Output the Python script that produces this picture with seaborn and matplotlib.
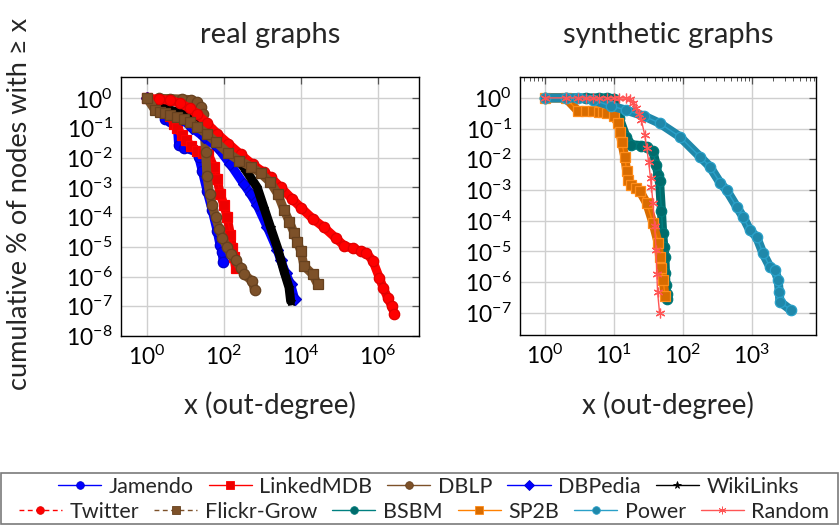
import numpy as np
import pandas as pd
import matplotlib
matplotlib.use("Agg")
import matplotlib.pyplot as plt
import matplotlib.ticker as mticker
from matplotlib.lines import Line2D
from matplotlib.patches import Rectangle
import seaborn as sns

# ---------------- data ----------------
jamendo_x = [1, 2, 3, 4, 5, 6, 6.6, 9, 13, 16, 22, 27, 36, 49, 66, 78, 89, 95]
jamendo_y = [1, 0.5, 0.2, 0.17, 0.16, 0.15, 0.026, 0.022, 0.021, 0.02, 0.0105,
             3.7e-3, 7.8e-4, 1.7e-4, 3.5e-5, 1.2e-5, 6.5e-6, 3e-6]

linkedmdb_x = [1, 2, 3, 4, 5, 6, 8, 10, 14, 20, 28, 39, 54, 65, 80, 100, 120, 147, 165, 180, 200]
linkedmdb_y = [1, 0.8, 0.5, 0.25, 0.14, 0.1, 0.06, 0.04, 0.025, 0.017, 0.015, 0.013,
               5e-3, 2e-3, 6e-4, 2.5e-4, 1e-4, 2.5e-5, 9e-6, 4.5e-6, 2e-6]

dblp_x = [2, 4, 8, 14, 20, 25, 28, 30, 33, 36, 42, 50, 60, 75, 90, 120, 150, 200, 270, 330, 540, 620]
dblp_y = [1, 0.98, 0.95, 0.9, 0.75, 0.5, 0.3, 0.1, 0.016, 2.5e-3, 6e-4, 2.5e-4, 1e-4,
          4e-5, 2e-5, 1e-5, 5.6e-6, 3.5e-6, 2e-6, 1.2e-6, 7e-7, 3.5e-7]

dbpedia_x = [1, 2, 4, 8, 15, 30, 66, 147, 326, 490, 730, 1340, 2400, 3000, 4000, 5400, 6900]
dbpedia_y = [1, 0.55, 0.35, 0.2, 0.1, 0.05, 0.023, 6e-3, 1.3e-3, 6e-4, 2.5e-4, 4.5e-5,
             8e-6, 3.5e-6, 1.3e-6, 5.5e-7, 1.7e-7]

wikilinks_x = [1, 1.8, 4, 10, 20, 54, 147, 326, 730, 1090, 1620, 2440, 3600, 4900, 5400]
wikilinks_y = [1, 0.6, 0.4, 0.3, 0.23, 0.083, 0.017, 4.8e-3, 1e-3, 2.1e-4, 4.5e-5,
               9.5e-6, 1.55e-6, 4.3e-7, 1.5e-7]

twitter_x = [1, 2, 4, 7, 13, 20, 35, 66, 130, 270, 550, 1100, 1620, 3000, 6000, 1e4,
             2e4, 4e4, 8e4, 1.35e5, 2.2e5, 3.6e5, 5e5, 7.4e5, 1.1e6, 1.4e6, 1.8e6, 2.3e6, 2.7e6]
twitter_y = [1, 0.95, 0.85, 0.7, 0.46, 0.3, 0.15, 0.065, 0.03, 0.013, 6e-3, 3.2e-3, 2.2e-3,
             1e-3, 4e-4, 2.1e-4, 9e-5, 4.5e-5, 2e-5, 1.07e-5, 9e-6, 7.2e-6, 6.3e-6, 3.4e-6,
             9e-7, 4e-7, 1.95e-7, 1e-7, 5.4e-8]

flickr_x = [1, 1.6, 2.2, 3, 4, 6, 9, 13, 20, 35, 60, 130, 250, 500, 900, 1600, 2500, 3600,
            5000, 6600, 8000, 1e4, 1.2e4, 2e4, 2.7e4]
flickr_y = [1, 0.4, 0.36, 0.32, 0.28, 0.24, 0.2, 0.16, 0.11, 0.065, 0.035, 0.014, 8e-3, 5e-3,
            3e-3, 1.5e-3, 6e-4, 1.8e-4, 7e-5, 3e-5, 1.5e-5, 7e-6, 2.3e-6, 1.2e-6, 5.5e-7]

bsbm_x = [1, 2, 4, 6, 8, 10, 12, 15, 18, 25, 30, 37, 41, 44, 46, 49, 51, 53, 55, 56, 57, 58, 59]
bsbm_y = [1, 1, 1, 1, 1, 0.95, 0.22, 0.055, 0.03, 0.028, 0.026, 0.018, 6.6e-3, 3e-3, 1.9e-3,
          2e-4, 4e-5, 1.4e-5, 6.6e-6, 2e-6, 8e-7, 4e-7, 2.8e-7]

sp2b_x = [1, 2, 3, 4, 5, 6, 7, 8, 10, 11.5, 12.2, 13, 14.4, 15.3, 16.1, 18, 21, 24, 30, 37,
          44, 46, 49, 52, 55]
sp2b_y = [1, 1, 0.38, 0.37, 0.37, 0.36, 0.35, 0.33, 0.25, 0.15, 0.08, 0.036, 0.012, 4.2e-3,
          2.2e-3, 1.5e-3, 1.15e-3, 9e-4, 3.7e-4, 8.3e-5, 1.85e-5, 6.6e-6, 2.8e-6, 1.2e-6, 3.6e-7]

power_x = [1, 2, 3, 5, 9, 15, 27, 46, 90, 178, 246, 350, 430, 600, 745, 930, 1170, 1450, 1820,
           2150, 2400, 2500, 2550, 3740]
power_y = [1, 1, 0.98, 0.85, 0.55, 0.4, 0.26, 0.15, 0.055, 0.012, 5.8e-3, 1.66e-3, 1e-3,
           2.9e-4, 1.35e-4, 5e-5, 3e-5, 8.7e-6, 3.2e-6, 2.5e-6, 1.2e-6, 4.9e-7, 2.3e-7, 1.2e-7]

random_x = [1, 2, 3, 4, 5, 6, 8, 10, 12, 15, 17, 19, 21, 23, 25, 28, 30, 32, 34, 35, 37, 39,
            41, 42, 43, 46]
random_y = [1, 1, 1, 1, 1, 1, 1, 1, 1, 0.98, 0.9, 0.7, 0.46, 0.3, 0.19, 0.063, 0.023, 8e-3,
            2.4e-3, 1.3e-3, 3.7e-4, 6.5e-5, 1.1e-5, 1.9e-6, 4.9e-7, 1e-7]

left_xticks = [1, 1e2, 1e4, 1e6]
left_yticks = [10.0 ** -k for k in range(0, 9)]
right_xticks = [1, 1e1, 1e2, 1e3]
right_yticks = [10.0 ** -k for k in range(0, 8)]

# ---------------- style ----------------
sns.set_theme(style="white")
plt.rcParams['font.family'] = ['Lato', 'DejaVu Sans']
plt.rcParams['mathtext.fontset'] = 'custom'
plt.rcParams['mathtext.rm'] = 'Lato'
plt.rcParams['mathtext.it'] = 'Lato:italic'
plt.rcParams['mathtext.bf'] = 'Lato:bold'

BROWN = '#7d5129'
BROWN_E = '#66411f'
series_left = [
    # name, x, y, line color, marker, face, edge, ms, dashed, band
    ("Jamendo", jamendo_x, jamendo_y, '#0000ff', 'o', '#0000ff', '#0000cc', 7.5, False, True),
    ("LinkedMDB", linkedmdb_x, linkedmdb_y, '#ff0000', 's', '#ee0000', '#ff0000', 6.5, False, True),
    ("DBLP", dblp_x, dblp_y, BROWN, 'o', BROWN, BROWN_E, 7.5, False, True),
    ("DBPedia", dbpedia_x, dbpedia_y, '#0000ff', 'D', '#0000ff', '#0000cc', 6.0, False, True),
    ("WikiLinks", wikilinks_x, wikilinks_y, '#000000', '*', '#000000', '#000000', 6.5, False, True),
    ("Twitter", twitter_x, twitter_y, '#ff0000', 'o', '#ff0000', '#e00000', 7.5, True, True),
    ("Flickr-Grow", flickr_x, flickr_y, BROWN, 's', BROWN, BROWN_E, 7.0, True, True),
]
series_right = [
    ("BSBM", bsbm_x, bsbm_y, '#008080', 'o', '#006c6c', '#007a7a', 7.5, False, True),
    ("SP2B", sp2b_x, sp2b_y, '#ff8000', 's', '#d96c00', '#ff8c1a', 7.5, False, True),
    ("Power", power_x, power_y, '#2aa0c8', 'o', '#1f88aa', '#2aa0c8', 7.5, False, True),
    ("Random", random_x, random_y, '#ff5555', (6, 2, 0), '#ff5555', '#ff5555', 7.0, False, False),
]

fig = plt.figure(figsize=(8.4, 5.25), dpi=100)
ax1 = fig.add_axes([121 / 840, 1 - 336 / 525, 298 / 840, 259 / 525])
ax2 = fig.add_axes([520 / 840, 1 - 335 / 525, 296 / 840, 258 / 525])

for ax in (ax1, ax2):
    ax.set_xscale('log')
    ax.set_yscale('log')


def draw(ax, series):
    for i, (name, x, y, lc, mk, fc, ec, ms, dashed, band) in enumerate(series):
        df = pd.DataFrame({"x": x, "y": y})
        if band:
            # dense-marker band
            sns.lineplot(data=df, x="x", y="y", ax=ax, color=fc, lw=6.5,
                         estimator=None, sort=False, legend=False,
                         solid_capstyle='round', solid_joinstyle='round', zorder=3 + 2 * i)
        sns.lineplot(data=df, x="x", y="y", ax=ax, color=lc, lw=1.0,
                     estimator=None, sort=False, legend=False,
                     marker=mk, markersize=ms, markerfacecolor=fc, markeredgecolor=ec,
                     markeredgewidth=0.9, zorder=4 + 2 * i)


draw(ax1, series_left)
draw(ax2, series_right)

ax1.set_xlim(10 ** -0.68, 10 ** 7.07)
ax1.set_ylim(1e-8, 10 ** 0.72)
ax2.set_xlim(10 ** -0.36, 10 ** 3.93)
ax2.set_ylim(10 ** -7.72, 10 ** 0.68)

ax1.xaxis.set_major_locator(mticker.FixedLocator(left_xticks))
ax1.yaxis.set_major_locator(mticker.FixedLocator(left_yticks))
ax1.xaxis.set_minor_locator(mticker.NullLocator())
ax1.yaxis.set_minor_locator(mticker.NullLocator())
ax2.xaxis.set_major_locator(mticker.FixedLocator(right_xticks))
ax2.yaxis.set_major_locator(mticker.FixedLocator(right_yticks))
ax2.xaxis.set_minor_locator(mticker.LogLocator(base=10, subs=np.arange(2, 10), numticks=20))
ax2.xaxis.set_minor_formatter(mticker.NullFormatter())
ax2.yaxis.set_minor_locator(mticker.NullLocator())

for ax in (ax1, ax2):
    ax.xaxis.set_major_formatter(mticker.LogFormatterSciNotation())
    ax.yaxis.set_major_formatter(mticker.LogFormatterSciNotation())
    ax.grid(True, which='major', color='#cfcfcf', lw=1.0, zorder=0)
    ax.set_axisbelow(True)
    ax.tick_params(which='major', direction='in', length=5, width=0.9, color='#555555',
                   top=True, right=True, labelsize=16.5, pad=6, labelcolor='black')
    ax.tick_params(which='minor', direction='in', length=3, width=0.7, color='#555555',
                   top=True, right=True)
    for sp in ax.spines.values():
        sp.set_color('black')
        sp.set_linewidth(1.0)
    ax.set_xlabel('')
    ax.set_ylabel('')

fig.text(270 / 840, 1 - 35 / 525, 'real graphs', ha='center', va='center', fontsize=21)
fig.text(668 / 840, 1 - 35 / 525, 'synthetic graphs', ha='center', va='center', fontsize=21)
fig.text(270 / 840, 1 - 405 / 525, 'x (out-degree)', ha='center', va='center', fontsize=20)
fig.text(668 / 840, 1 - 405 / 525, 'x (out-degree)', ha='center', va='center', fontsize=20)
fig.text(20 / 840, 1 - 204 / 525, 'cumulative % of nodes with ≥ x', ha='center', va='center',
         rotation=90, fontsize=19.5)


def handle(lc, mk, fc, ec, dashed):
    return Line2D([], [], color=lc, lw=1.0, ls=(0, (3.5, 2.5)) if dashed else '-',
                  marker=mk, markersize=5.5, markerfacecolor=fc, markeredgecolor=ec,
                  markeredgewidth=0.6)


all_series = series_left + series_right
row1 = all_series[:5]
row2 = all_series[5:]
leg_kw = dict(frameon=False, fontsize=15.5, handlelength=2.0, handletextpad=0.35,
              columnspacing=0.7, borderaxespad=0, borderpad=0)
fig.legend([handle(s[3], s[4], s[5], s[6], s[8]) for s in row1], [s[0] for s in row1],
           loc='center', bbox_to_anchor=(0.51, 1 - 487 / 525), ncol=5, **leg_kw)
fig.legend([handle(s[3], s[4], s[5], s[6], s[8]) for s in row2], [s[0] for s in row2],
           loc='center', bbox_to_anchor=(0.505, 1 - 512 / 525), ncol=6, **leg_kw)
fig.add_artist(Rectangle((1 / 840, 1 / 525), 837 / 840, 51 / 525, transform=fig.transFigure,
                         facecolor='none', edgecolor='#7a7a7a', lw=1.2))

fig.savefig('out.png', dpi=100)
